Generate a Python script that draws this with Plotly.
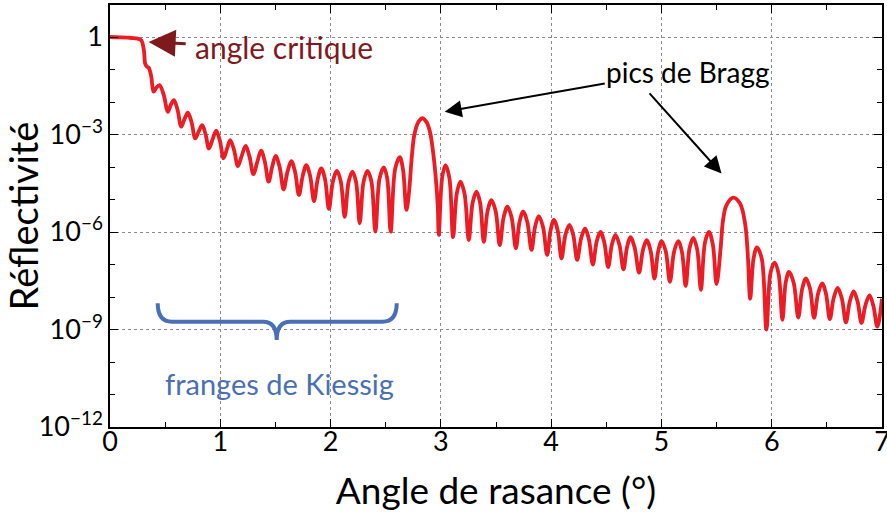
import plotly.graph_objects as go

# ---- data (angle in degrees, log10 of reflectivity) ----
plateau = [(0.00, 0.00), (0.10, -0.01), (0.20, -0.03), (0.25, -0.05), (0.283, -0.10),
           (0.307, -0.40), (0.319, -0.82), (0.335, -0.91), (0.352, -0.95), (0.374, -1.22)]

kiessig_low = [
    (0.395, -1.68), (0.42, -1.56), (0.449, -1.48), (0.487, -1.78), (0.525, -2.30),
    (0.552, -2.08), (0.579, -1.94), (0.612, -2.23), (0.646, -2.76), (0.676, -2.52),
    (0.706, -2.33), (0.740, -2.63), (0.773, -3.12), (0.805, -2.90), (0.836, -2.71),
    (0.867, -3.00), (0.897, -3.43), (0.930, -3.15), (0.963, -2.88), (0.997, -3.20),
    (1.030, -3.73), (1.060, -3.45), (1.090, -3.17), (1.125, -3.48), (1.160, -3.97),
    (1.195, -3.65), (1.230, -3.35), (1.265, -3.68), (1.300, -4.22), (1.335, -3.85),
    (1.370, -3.50), (1.404, -3.84), (1.438, -4.45), (1.470, -4.00), (1.502, -3.66),
    (1.538, -4.00), (1.574, -4.69), (1.609, -4.15), (1.644, -3.82), (1.678, -4.15),
    (1.713, -4.86), (1.747, -4.28), (1.780, -3.94), (1.815, -4.28), (1.850, -5.05),
    (1.883, -4.38), (1.916, -4.04), (1.950, -4.38), (1.985, -5.29), (2.021, -4.45),
    (2.058, -4.12), (2.093, -4.45), (2.128, -5.53), (2.163, -4.47), (2.198, -4.14),
    (2.231, -4.46), (2.264, -5.73), (2.299, -4.46), (2.334, -4.12), (2.370, -4.44),
    (2.406, -5.99), (2.444, -4.36), (2.482, -4.01), (2.513, -4.34), (2.545, -5.99),
    (2.586, -4.05), (2.627, -3.70), (2.657, -4.08), (2.688, -5.32)]

bragg_peak_1 = [(2.712, -4.75), (2.735, -3.75), (2.760, -3.00), (2.795, -2.62),
                (2.833, -2.50), (2.870, -2.62), (2.900, -2.90), (2.928, -3.50),
                (2.953, -4.30), (2.972, -5.20), (2.981, -6.09)]

kiessig_mid = [
    (3.012, -4.32), (3.042, -3.94), (3.077, -4.33), (3.111, -6.16), (3.145, -4.80),
    (3.178, -4.45), (3.215, -4.83), (3.253, -6.25), (3.288, -5.10), (3.323, -4.76),
    (3.356, -5.10), (3.389, -6.30), (3.424, -5.35), (3.459, -5.02), (3.497, -5.36),
    (3.534, -6.40), (3.569, -5.55), (3.604, -5.22), (3.642, -5.56), (3.680, -6.50),
    (3.713, -5.70), (3.746, -5.37), (3.784, -5.70), (3.822, -6.55), (3.855, -5.83),
    (3.888, -5.51), (3.926, -5.84), (3.964, -6.71), (3.995, -5.95), (4.025, -5.63),
    (4.060, -5.96), (4.094, -6.81), (4.130, -6.08), (4.166, -5.78), (4.201, -6.10),
    (4.236, -6.86), (4.271, -6.21), (4.306, -5.90), (4.342, -6.22), (4.378, -7.00),
    (4.412, -6.31), (4.446, -6.00), (4.482, -6.32), (4.517, -7.08), (4.550, -6.40),
    (4.583, -6.09), (4.620, -6.41), (4.656, -7.15), (4.688, -6.47), (4.719, -6.16),
    (4.758, -6.49), (4.797, -7.25), (4.832, -6.56), (4.866, -6.25), (4.902, -6.58),
    (4.937, -7.43), (4.970, -6.60), (5.002, -6.28), (5.040, -6.61), (5.077, -7.53),
    (5.115, -6.60), (5.152, -6.28), (5.186, -6.61), (5.220, -7.66), (5.255, -6.50),
    (5.289, -6.18), (5.324, -6.53), (5.358, -7.78), (5.395, -6.32), (5.431, -6.00),
    (5.466, -6.38), (5.500, -7.60)]

bragg_peak_2 = [(5.537, -6.49), (5.558, -5.65), (5.589, -5.18), (5.651, -4.94),
                (5.714, -5.13), (5.759, -5.75), (5.783, -6.70), (5.805, -8.05)]

kiessig_high = [
    (5.836, -6.80), (5.867, -6.47), (5.910, -6.83), (5.952, -9.00), (5.989, -7.26),
    (6.026, -6.94), (6.062, -7.28), (6.097, -8.70), (6.127, -7.55), (6.157, -7.23),
    (6.199, -7.56), (6.241, -8.63), (6.276, -7.75), (6.311, -7.43), (6.348, -7.75),
    (6.384, -8.64), (6.420, -7.90), (6.457, -7.58), (6.492, -7.90), (6.527, -8.68),
    (6.562, -8.03), (6.598, -7.72), (6.636, -8.05), (6.673, -8.78), (6.708, -8.14),
    (6.743, -7.83), (6.779, -8.15), (6.814, -8.80), (6.850, -8.25), (6.887, -7.95),
    (6.922, -8.28), (6.958, -8.91), (7.000, -8.05)]

y_tick_vals = [1e-12, 1e-9, 1e-6, 1e-3, 1]
y_tick_text = ["10<sup>\u221212</sup>", "10<sup>\u22129</sup>", "10<sup>\u22126</sup>",
               "10<sup>\u22123</sup>", "1"]
y_minor_vals = [1e-11, 1e-10, 1e-8, 1e-7, 1e-5, 1e-4, 1e-2, 1e-1, 10]
x_tick_vals = [0, 1, 2, 3, 4, 5, 6, 7]
x_minor_vals = [0.5, 1.5, 2.5, 3.5, 4.5, 5.5, 6.5]

# ---------------------------------------------------------------------------
segments = plateau + kiessig_low + bragg_peak_1 + kiessig_mid + bragg_peak_2 + kiessig_high
angle = [p[0] for p in segments]
reflectivity = [10 ** p[1] for p in segments]

FONT = "Lato"
RED = "#ED1C24"
DARKRED = "#7E1A1E"
BLUE = "#4A6FB5"

fig = go.Figure()
fig.add_trace(go.Scatter(x=angle, y=reflectivity, mode="lines",
                         line=dict(color=RED, width=3.8, shape="spline", smoothing=1),
                         hoverinfo="skip", showlegend=False))

axis_common = dict(showline=True, linecolor="black", linewidth=1.5, mirror="ticks",
                   ticks="inside", ticklen=8, tickwidth=1.3, tickcolor="black",
                   showgrid=True, gridcolor="#8a8a8a", griddash="dot", gridwidth=1,
                   zeroline=False, automargin=False, ticklabeloverflow="allow",
                   tickfont=dict(family=FONT, size=27, color="black"))

fig.update_xaxes(range=[0, 7], tickmode="array", tickvals=x_tick_vals,
                 ticklabelstandoff=-10,
                 minor=dict(tickmode="array", tickvals=x_minor_vals, ticks="inside",
                            ticklen=5, tickcolor="black", showgrid=False),
                 title=dict(text="Angle de rasance (°)", font=dict(family=FONT, size=37, color="black"),
                            standoff=22),
                 **axis_common)
fig.update_yaxes(type="log", range=[-12, 0.985], tickmode="array", tickvals=y_tick_vals,
                 ticktext=y_tick_text,
                 minor=dict(tickmode="array", tickvals=y_minor_vals, ticks="inside",
                            ticklen=5, tickcolor="black", showgrid=False),
                 title=dict(text="Réflectivité", font=dict(family=FONT, size=38, color="black"),
                            standoff=10),
                 **axis_common)

# brace under Kiessig fringes (paper coordinates of the plot area)
brace = ("M 0.0618,0.2931 Q 0.0618,0.2495 0.0803,0.2495 L 0.1982,0.2495 "
         "Q 0.2159,0.2495 0.2159,0.2062 Q 0.2159,0.2495 0.2336,0.2495 "
         "L 0.3529,0.2495 Q 0.3714,0.2495 0.3714,0.2931")
fig.add_shape(type="path", path=brace, xref="paper", yref="paper",
              line=dict(color=BLUE, width=4))

annotations = [
    dict(x=0.35, y=-0.15, ax=0.70, ay=-0.21, xref="x", yref="y", axref="x", ayref="y",
         text="", showarrow=True, arrowhead=2, arrowsize=1.8, arrowwidth=3, arrowcolor=DARKRED),
    dict(x=1.58, y=-0.31, xref="x", yref="y", text="angle critique", showarrow=False,
         font=dict(family=FONT, size=30, color=DARKRED)),
    dict(x=3.035, y=-2.30, ax=4.50, ay=-1.42, xref="x", yref="y", axref="x", ayref="y",
         text="", showarrow=True, arrowhead=2, arrowsize=1.7, arrowwidth=2, arrowcolor="black"),
    dict(x=5.545, y=-4.20, ax=4.88, ay=-1.69, xref="x", yref="y", axref="x", ayref="y",
         text="", showarrow=True, arrowhead=2, arrowsize=1.7, arrowwidth=2, arrowcolor="black"),
    dict(x=5.24, y=-1.08, xref="x", yref="y", text="pics de Bragg", showarrow=False,
         font=dict(family=FONT, size=28, color="black")),
    dict(x=1.538, y=-10.65, xref="x", yref="y", text="franges de Kiessig", showarrow=False,
         font=dict(family=FONT, size=29, color=BLUE)),
]
fig.update_layout(annotations=annotations, width=887, height=524,
                  margin=dict(l=110, r=5, t=5, b=97),
                  paper_bgcolor="white", plot_bgcolor="white",
                  font=dict(family=FONT))

# remove the browser's default 8 px body margin so the figure fills the window exactly
fig.write_html("out.html", config={"displayModeBar": False},
               post_script="document.body.style.margin='0';")
